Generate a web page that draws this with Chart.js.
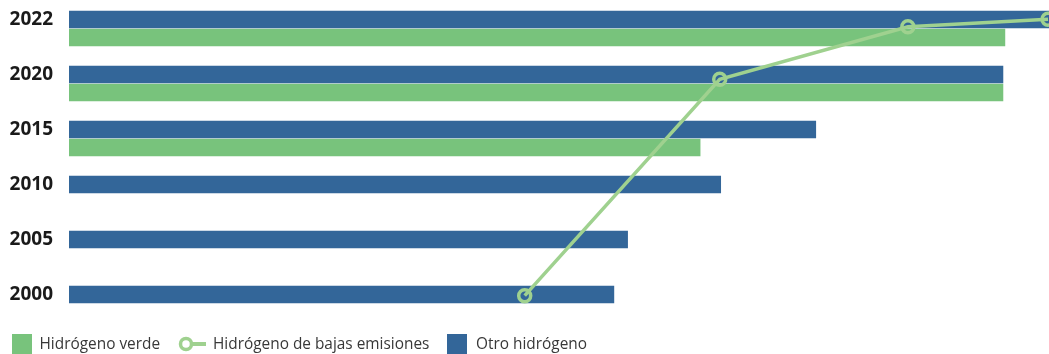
<!DOCTYPE html>
<html>
<head>
<meta charset="utf-8">
<script src="https://cdn.jsdelivr.net/npm/chart.js@4/dist/chart.umd.min.js"></script>
<style>
  html, body { margin: 0; padding: 0; background: #ffffff; }
  #wrap { position: relative; width: 1049px; height: 354px; overflow: hidden; }
  #c { position: absolute; left: 0; top: 0; }
  #legend { position: absolute; left: 0; top: 0; pointer-events: none; }
  #legend text { font-family: "Open Sans", sans-serif; font-size: 15.4px; fill: #383838; }
</style>
</head>
<body>
<div id="wrap">
  <canvas id="c" width="1049" height="354"></canvas>
  <svg id="legend" width="1049" height="354" xmlns="http://www.w3.org/2000/svg">
    <rect x="12" y="334" width="20" height="20" fill="#78c37c"></rect>
    <text x="39.5" y="348.5">Hidrógeno verde</text>
    <line x1="190" y1="344" x2="206" y2="344" stroke="#9fd18f" stroke-width="4"></line>
    <circle cx="186" cy="344" r="5.5" fill="#ffffff" stroke="#9fd18f" stroke-width="3.5"></circle>
    <text x="213" y="348.5">Hidrógeno de bajas emisiones</text>
    <rect x="447" y="334" width="20" height="20" fill="#336699"></rect>
    <text x="476" y="348.5">Otro hidrógeno</text>
  </svg>
</div>
<script>
// Categories (top to bottom)
const categories = ['2022', '2020', '2015', '2010', '2005', '2000'];

// Bar series (relative scale 0-100)
const otroHidrogeno = [100, 95.3, 76.2, 66.5, 57.0, 55.6];
const hidrogenoVerde = [95.5, 95.3, 64.4, null, null, null];

// Line series: "Hidrógeno de bajas emisiones" (x: relative value, y: relative position)
const bajasX = [46.5, 66.4, 85.6, 99.9];
const bajasY = [10.7, 76.3, 92.2, 94.5];

const seriesNames = ['Otro hidrógeno', 'Hidrógeno verde', 'Hidrógeno de bajas emisiones'];

const BLUE = '#336699';
const GREEN = '#78c37c';
const LINE_GREEN = '#9fd18f';

// bars are placed by category index on hidden index axes
const blueData = otroHidrogeno.map((v, i) => ({ x: v, y: i }));
const greenData = hidrogenoVerde.map((v, i) => ({ x: v, y: i })).filter(d => d.x !== null);
const lineData = bajasX.map((x, i) => ({ x: x, y: bajasY[i] }));

const N = categories.length;
const HALF_SHIFT = 9 / 55;   // half of bar pair spacing relative to category band

new Chart(document.getElementById('c'), {
  type: 'bar',
  data: {
    labels: categories,
    datasets: [
      {
        label: seriesNames[0],
        data: blueData,
        xAxisID: 'x',
        yAxisID: 'yB',
        backgroundColor: BLUE,
        borderWidth: 0,
        grouped: false,
        barThickness: 17,
        order: 1
      },
      {
        label: seriesNames[1],
        data: greenData,
        xAxisID: 'x',
        yAxisID: 'yG',
        backgroundColor: GREEN,
        borderWidth: 0,
        grouped: false,
        barThickness: 17,
        order: 1
      },
      {
        type: 'line',
        label: seriesNames[2],
        data: lineData,
        indexAxis: 'x',
        xAxisID: 'x2',
        yAxisID: 'y2',
        borderColor: LINE_GREEN,
        borderWidth: 3.5,
        pointRadius: 6,
        pointBorderWidth: 3.5,
        pointBackgroundColor: 'rgba(0,0,0,0)',
        pointBorderColor: LINE_GREEN,
        pointHoverRadius: 6,
        tension: 0,
        fill: false,
        clip: false,
        order: 0
      }
    ]
  },
  options: {
    indexAxis: 'y',
    responsive: false,
    animation: false,
    devicePixelRatio: 1,
    layout: { autoPadding: false, padding: { top: 1, bottom: 23, left: 0, right: 0 } },
    plugins: {
      legend: { display: false },
      tooltip: { enabled: false },
      title: { display: false }
    },
    scales: {
      x: {
        display: false,
        offset: false,
        min: 0,
        max: 100
      },
      y: {
        type: 'category',
        labels: categories,
        offset: true,
        grid: { display: false, drawTicks: false },
        border: { display: false },
        ticks: {
          padding: 16,
          labelOffset: -8.5,
          color: '#1a1a1a',
          font: { family: '"Open Sans", sans-serif', size: 19, weight: 'bold' }
        },
        afterFit: (s) => { s.width = 69; s.paddingTop = 0; s.paddingBottom = 0; }
      },
      yB: {
        type: 'linear',
        axis: 'y',
        display: false,
        offset: false,
        reverse: true,
        min: -0.5 + HALF_SHIFT,
        max: N - 0.5 + HALF_SHIFT
      },
      yG: {
        type: 'linear',
        axis: 'y',
        display: false,
        offset: false,
        reverse: true,
        min: -0.5 - HALF_SHIFT,
        max: N - 0.5 - HALF_SHIFT
      },
      x2: {
        type: 'linear',
        axis: 'x',
        display: false,
        offset: false,
        min: 0,
        max: 100
      },
      y2: {
        type: 'linear',
        axis: 'y',
        display: false,
        offset: false,
        min: 0,
        max: 100
      }
    }
  }
});
</script>
</body>
</html>
